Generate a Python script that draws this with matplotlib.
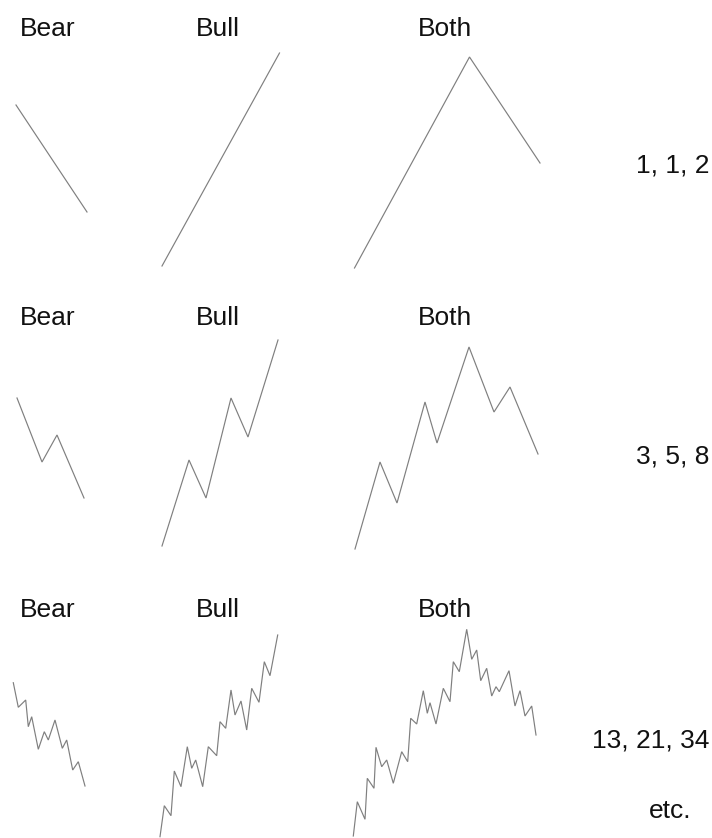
import matplotlib
matplotlib.use("Agg")
import matplotlib.pyplot as plt

# ---- data (x, y in image-like units; y grows downward) ----
# Row 1: 1, 1, 2
bear1_x = [16, 87]
bear1_y = [105, 212]
bull1_x = [162, 279.5]
bull1_y = [266, 53]
both1_x = [354.5, 469.5, 540]
both1_y = [268, 57, 163]

# Row 2: 3, 5, 8
bear2_x = [17, 42, 57, 84]
bear2_y = [398, 462, 435, 498]
bull2_x = [162, 189, 206, 231, 248, 278]
bull2_y = [546, 460, 498, 398, 437, 340]
both2_x = [355, 380, 397, 425, 437, 469, 494, 510, 538]
both2_y = [549, 462, 503, 402, 443, 347, 412, 387, 454]

# Row 3: 13, 21, 34
bear3_x = [13.3, 18.3, 25.7, 28.3, 31.7, 38.3, 44.3, 48.3, 55, 62.3, 66.7, 72.7, 78.3, 85]
bear3_y = [682.7, 707.3, 700, 726.7, 716.7, 749.3, 731.7, 740, 720, 748.3, 740, 770, 761.7, 786]
bull3_x = [160, 164.3, 171, 174.3, 181, 187.3, 191.7, 195.7, 202.7, 208.3, 216.7,
           220, 225.7, 231, 235, 241, 246.7, 251.7, 259, 264.3, 270, 277.7]
bull3_y = [836.7, 805.7, 815.7, 771, 786.7, 746.7, 768.3, 760, 786.7, 746.7, 755.7,
           721.7, 728.3, 690, 715, 701, 730, 688.3, 702.3, 661.7, 675.7, 635]
both3_x = [353.3, 357.3, 365, 367.3, 374, 376, 381.7, 386.7, 393.3, 401.7, 407.7,
           410.7, 416.7, 423.3, 427.3, 430, 436, 443.3, 450, 453.3, 459.3, 466.7,
           471.7, 476.7, 480.7, 486.7, 491.7, 496, 499.3, 509, 515, 520, 525, 531.7, 536]
both3_y = [836, 801.7, 819.3, 778.3, 788.3, 747.3, 766.7, 760, 783.3, 751.7, 761.7,
           718.3, 724, 690.7, 713.3, 702.7, 724, 688.3, 701.7, 661.7, 671.7, 629.3,
           659.3, 650, 680.7, 668.3, 696, 686.7, 691.7, 670.7, 706, 690.7, 716, 706, 735]

panel_labels = ["Bear", "Bull", "Both"]
label_x = [20, 196, 418]
label_baselines = [36.5, 325, 617]
count_labels = ["1, 1, 2", "3, 5, 8", "13, 21, 34"]
count_baselines = [172, 463, 747]
etc_label = "etc."

# ---- figure ----
W, H = 712, 838
fig = plt.figure(figsize=(W / 100, H / 100), dpi=100)
ax = fig.add_axes([0, 0, 1, 1])
ax.set_xlim(0, W)
ax.set_ylim(H, 0)
ax.axis("off")

line_kw = dict(color="#7f7f7f", lw=0.85, solid_joinstyle="miter")
for xs, ys in [(bear1_x, bear1_y), (bull1_x, bull1_y), (both1_x, both1_y),
               (bear2_x, bear2_y), (bull2_x, bull2_y), (both2_x, both2_y),
               (bear3_x, bear3_y), (bull3_x, bull3_y), (both3_x, both3_y)]:
    ax.plot(xs, ys, **line_kw)

font = dict(family="Liberation Sans", fontsize=19, color="#111111")
for yb in label_baselines:
    for lab, xl in zip(panel_labels, label_x):
        ax.text(xl, yb, lab, ha="left", va="baseline", **font)

for lab, yb in zip(count_labels, count_baselines):
    ax.text(709, yb, lab, ha="right", va="baseline", **font)
ax.text(670, 818, etc_label, ha="center", va="baseline", **font)

fig.savefig("out.png", dpi=100)
